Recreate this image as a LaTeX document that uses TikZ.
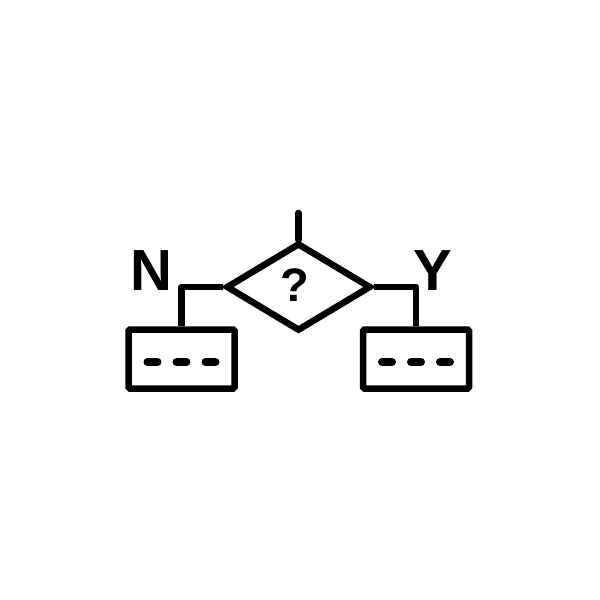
\documentclass[tikz,border=0pt]{standalone}
\usepackage{fontspec}
\setmainfont{Liberation Sans}
\usetikzlibrary{shapes.geometric}
\tikzset{
  ink/.style={line width=6.5pt, draw=black},
  decision/.style={ink, shape=diamond, minimum width=145pt, minimum height=88pt, inner sep=0pt, line join=miter},
  procbox/.style={ink, rectangle, minimum width=106pt, minimum height=59pt, inner sep=0pt, rounded corners=1.5pt},
  link/.style={ink, line join=round},
  dashmark/.style={line width=8pt, line cap=round, draw=black},
  lbl/.style={inner sep=0pt, font=\fontsize{58}{60}\selectfont\bfseries},
  qmark/.style={inner sep=0pt, font=\fontsize{47}{50}\selectfont\bfseries}
}
\begin{document}
\begin{tikzpicture}[x=1pt,y=-1pt]
\useasboundingbox[fill=white] (0,0) rectangle (600,600);
\node[decision] (d) at (298.5,287) {};
\node[qmark] (q) at (294.5,285) {?};
\node[procbox] (lb) at (181.5,359) {};
\node[procbox] (rb) at (416,359) {};
\coordinate (top) at (298.5,213);
\draw[ink, line cap=round] (top) -- (d.north);
\draw[link] (d.west) -| (lb.north);
\draw[link] (d.east) -| (rb.north);
\foreach \b in {lb,rb}{
  \foreach \dx in {-29,0,29}{
    \draw[dashmark] ([xshift=\dx pt-5pt, yshift=-3pt]\b.center) -- ([xshift=\dx pt+5pt, yshift=-3pt]\b.center);
  }
}
\node[lbl] (n) at (151,271) {N};
\node[lbl] (y) at (432.5,271) {Y};
\end{tikzpicture}
\end{document}
